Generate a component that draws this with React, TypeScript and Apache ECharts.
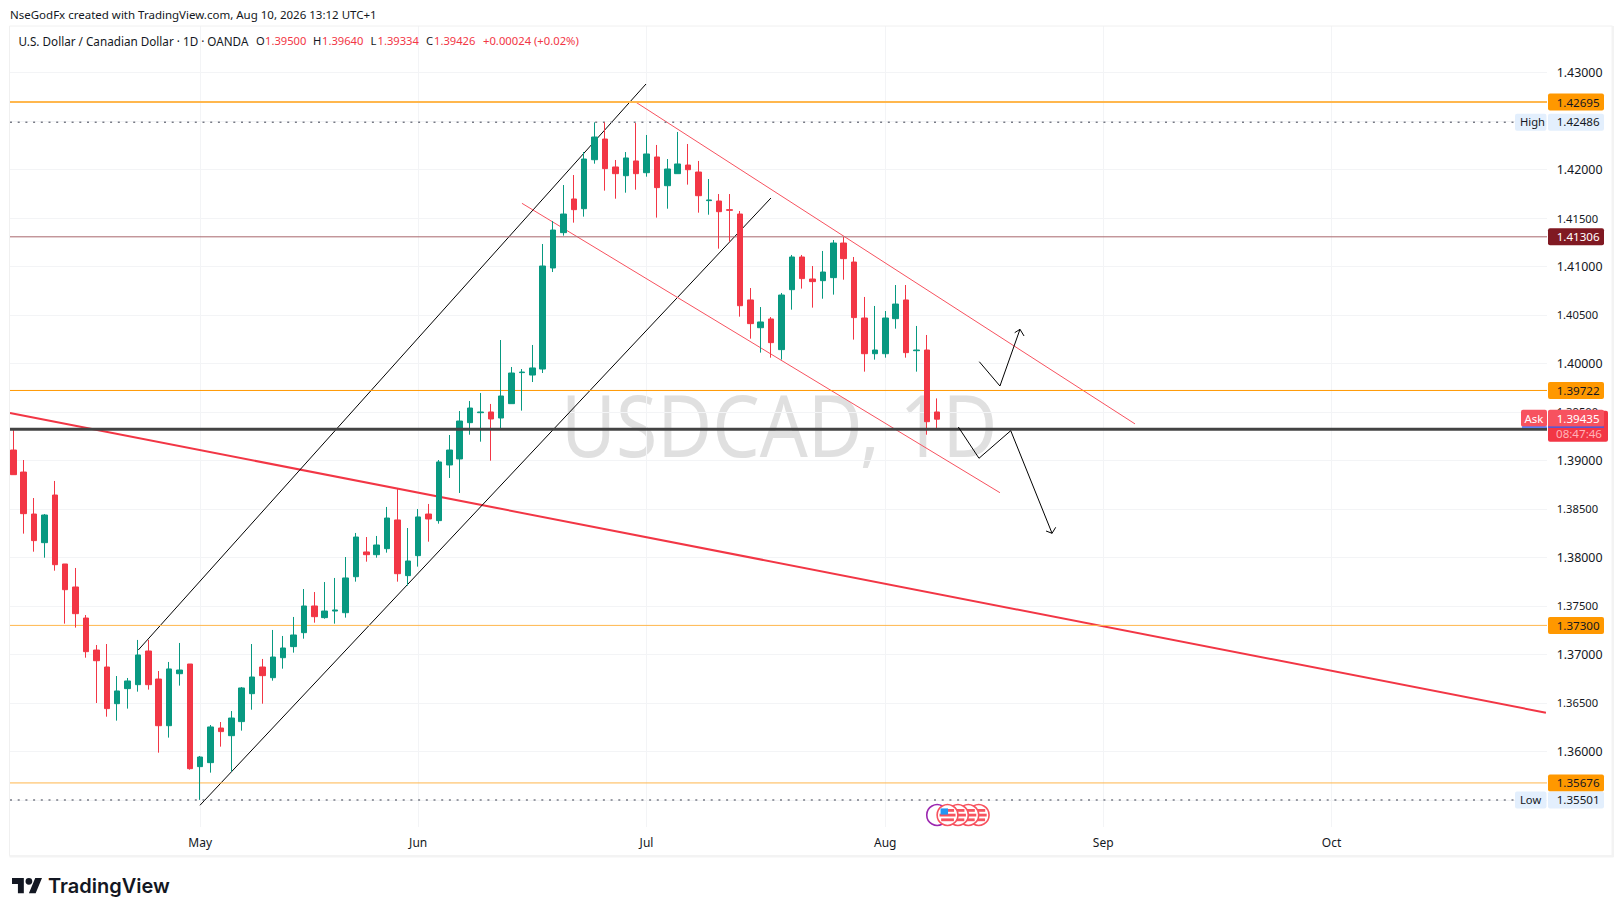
import React, { useEffect, useRef } from "react";
import * as echarts from "echarts";

const opens = [1.39108,1.38881,1.38448,1.38153,1.38644,1.37933,1.37696,1.37376,1.37046,1.36871,1.36493,1.36648,1.36689,1.37036,1.36747,1.36266,1.36802,1.36902,1.35844,1.35885,1.36242,1.36163,1.36308,1.36596,1.36871,1.36761,1.36967,1.37081,1.37225,1.375,1.3738,1.37448,1.37431,1.37802,1.38057,1.38029,1.38091,1.38387,1.37813,1.38019,1.38448,1.3838,1.38954,1.39016,1.3939,1.39493,1.395,1.39438,1.39586,1.39906,1.39881,1.39943,1.40985,1.41349,1.41696,1.41596,1.42101,1.42314,1.42026,1.41936,1.42088,1.41967,1.42129,1.41833,1.41957,1.42046,1.41974,1.41679,1.41675,1.41586,1.41541,1.40655,1.40369,1.40459,1.40143,1.40761,1.41098,1.40871,1.40854,1.40885,1.41242,1.41046,1.40469,1.40101,1.40101,1.40462,1.40655,1.40132,1.40139,1.395];
const closes = [1.38854,1.38452,1.38174,1.38438,1.37926,1.37668,1.37421,1.37029,1.36936,1.36442,1.36624,1.36727,1.36995,1.36689,1.36266,1.36851,1.3684,1.35823,1.35943,1.36253,1.36205,1.36345,1.36655,1.36768,1.36782,1.36974,1.37067,1.37201,1.375,1.3739,1.37448,1.37459,1.37789,1.38211,1.38029,1.38129,1.38407,1.37833,1.37964,1.38418,1.38397,1.38985,1.39108,1.39407,1.39541,1.395,1.39428,1.39665,1.39902,1.39912,1.39954,1.41005,1.41376,1.41541,1.41586,1.42108,1.42335,1.42009,1.41957,1.42119,1.41957,1.4216,1.41813,1.42005,1.42057,1.41998,1.4173,1.41686,1.41565,1.41579,1.40596,1.40411,1.40428,1.40215,1.40706,1.41098,1.40875,1.40844,1.40943,1.41242,1.41081,1.40473,1.40101,1.40139,1.40469,1.40613,1.40112,1.40139,1.394,1.39426];
const highs = [1.39314,1.39005,1.38613,1.38448,1.38789,1.37933,1.37892,1.37407,1.37098,1.37108,1.36778,1.36758,1.3715,1.3715,1.3683,1.36923,1.37119,1.36902,1.35954,1.36273,1.36304,1.36417,1.36665,1.37108,1.36954,1.37253,1.37191,1.37387,1.37675,1.37644,1.37747,1.37789,1.38005,1.38253,1.38211,1.38222,1.38521,1.38706,1.38304,1.385,1.38552,1.39005,1.39263,1.3951,1.39613,1.39696,1.39583,1.40242,1.39964,1.39943,1.40191,1.41232,1.41469,1.4184,1.41943,1.4218,1.42486,1.42486,1.42098,1.4218,1.42479,1.42356,1.42253,1.42108,1.42387,1.42263,1.42088,1.41902,1.41747,1.41747,1.41572,1.40778,1.40582,1.40479,1.40727,1.41119,1.41119,1.41005,1.4116,1.41273,1.41304,1.41098,1.40686,1.40593,1.40541,1.40809,1.40809,1.40387,1.40294,1.3964];
const lows = [1.38854,1.38246,1.3806,1.37998,1.37864,1.37318,1.37277,1.36967,1.365,1.36359,1.36318,1.36442,1.36617,1.36638,1.35988,1.36143,1.36679,1.35813,1.35501,1.35782,1.3605,1.35792,1.36215,1.36431,1.36493,1.3673,1.36854,1.37019,1.37163,1.37328,1.37369,1.37318,1.3738,1.37751,1.37957,1.37998,1.3805,1.37751,1.3771,1.37906,1.38163,1.38349,1.3882,1.38665,1.39266,1.39194,1.38998,1.39318,1.39586,1.39514,1.39809,1.39902,1.40943,1.41318,1.41452,1.41514,1.4206,1.41782,1.41699,1.41761,1.41792,1.41926,1.41504,1.41596,1.41957,1.41844,1.41555,1.41534,1.41184,1.41256,1.40483,1.40256,1.40112,1.4006,1.4004,1.40555,1.40772,1.40576,1.40668,1.4071,1.40864,1.40246,1.39916,1.4004,1.4006,1.40359,1.4006,1.39916,1.39266,1.39334];

const monthIndex = [18, 39, 61, 84, 105, 127];
const monthNames = ["May", "Jun", "Jul", "Aug", "Sep", "Oct"];
const priceTicks = [1.355,1.36,1.365,1.37,1.375,1.38,1.385,1.39,1.395,1.4,1.405,1.41,1.415,1.42,1.425,1.43];

const xMin = -0.3208;
const xMax = 147.752;
const yMin = 1.352216;
const yMax = 1.434794;

const blackUpper = [[12.04, 1.370464], [60.95, 1.428814]];
const blackLower = [[17.98, 1.354454], [72.99, 1.417062]];
const redUpper = [[59.99, 1.426928], [108.06, 1.393773]];
const redLower = [[49.0, 1.416515], [95.05, 1.38668]];
const longRed = [[xMin, 1.394897], [147.65, 1.364]];
const arrowDown = [[91.04, 1.393454], [93.03, 1.390227], [96.09, 1.393072], [100.07, 1.382495]];
const arrowDownHead = [[99.49, 1.382732], [100.07, 1.382495], [100.42, 1.383113]];
const arrowUp = [[93.06, 1.400186], [95.05, 1.39768], [96.98, 1.403526]];
const arrowUpHead = [[96.47, 1.403175], [96.98, 1.403526], [97.37, 1.402835]];

const levelOrange1 = 1.42695;
const levelOrange2 = 1.39722;
const levelOrange3 = 1.373;
const levelOrange4 = 1.35676;
const levelMaroon = 1.41306;
const levelDark = 1.39322;
const levelHigh = 1.42486;
const levelLow = 1.35501;
const levelAsk = 1.39435;
const eventIndex = [89, 93, 92, 91, 90];

const orangeTags = [levelOrange1, levelOrange2, levelOrange3, levelOrange4];
const extremeTags = [levelHigh, levelLow];
const extremeNames = ["High", "Low"];

const UI = "'Noto Sans', sans-serif";
const INK = "#131722";
const GREEN = "#089981";
const RED = "#f23645";
const ORANGE = "#ff9800";

echarts.graphic.registerShape(
  "tvlogo",
  echarts.graphic.extendPath(
    "M14 22H7V11H0V4h14v18zM28 22h-8l7.5-18h8L28 22zM20 12a4 4 0 1 0 0-8 4 4 0 0 0 0 8z",
    {}
  )
);

function lineSeries(data: number[][], color: string, width: number, z: number, extra: any = {}) {
  return {
    type: "line",
    data,
    z,
    silent: true,
    symbol: "none",
    showSymbol: false,
    lineStyle: { color, width, ...extra },
  };
}
const hLine = (p: number, end = xMax) => [[xMin, p], [end, p]];

function tag(x: number, cy: number, w: number, h: number, bg: string) {
  return { type: "rect", shape: { x, y: cy - h / 2, width: w, height: h, r: 2 }, style: { fill: bg } };
}
function label(x: number, y: number, text: string, fill: string, size = 12, align = "left", weight = "normal") {
  return {
    type: "text",
    style: { x, y, text, fill, fontSize: size, fontFamily: UI, fontWeight: weight, align, verticalAlign: "middle" },
  };
}

function gText(x: number, y: number, text: string, fill: string, size = 11.2) {
  return {
    type: "text",
    z: 10,
    x,
    y,
    style: { text, fill, fontSize: size, fontFamily: UI, textVerticalAlign: "middle", verticalAlign: "middle" },
  };
}

export default function App() {
  const ref = useRef<HTMLDivElement>(null);
  useEffect(() => {
    const chart = echarts.init(ref.current!, undefined, { renderer: "svg" });
    const candles = opens.map((o, i) => [i, o, closes[i], lows[i], highs[i]]);
    chart.setOption({
      animation: false,
      backgroundColor: "#ffffff",
      grid: { left: 10, right: 76, top: 26, bottom: 89, containLabel: false },
      xAxis: {
        type: "value",
        min: xMin,
        max: xMax,
        axisLine: { show: false },
        axisTick: { show: false, customValues: monthIndex },
        axisLabel: {
          show: true,
          customValues: monthIndex,
          margin: 9,
          color: INK,
          fontSize: 12,
          fontFamily: UI,
          showMinLabel: true,
          showMaxLabel: true,
          formatter: (v: number) => monthNames[monthIndex.indexOf(Math.round(v))] ?? "",
        },
        splitLine: { show: true, lineStyle: { color: "#f3f4f6", width: 1 } },
      },
      yAxis: {
        type: "value",
        position: "right",
        min: yMin,
        max: yMax,
        axisLine: { show: false },
        axisTick: { show: false, customValues: priceTicks },
        axisLabel: {
          show: true,
          customValues: priceTicks,
          margin: 9.7,
          align: "left",
          color: INK,
          formatter: (v: number) => {
            const s = v.toFixed(5);
            return Math.round(v * 1000) % 10 === 0 ? `{a|${s}}` : `{b|${s}}`;
          },
          rich: {
            a: { fontSize: 12.4, fontFamily: UI, color: INK },
            b: { fontSize: 11.2, fontFamily: UI, color: INK },
          },
        },
        splitLine: { show: true, lineStyle: { color: "#f3f4f6", width: 1 } },
      },
      series: [
        lineSeries(longRed, RED, 2, 1),
        lineSeries(blackUpper, "#000000", 1, 1),
        lineSeries(blackLower, "#000000", 1, 1),
        lineSeries(redUpper, "#f7525f", 1, 1),
        lineSeries(redLower, "#f7525f", 1, 1),
        lineSeries(hLine(levelOrange1), "#ffb74d", 2, 1),
        lineSeries(hLine(levelOrange2), ORANGE, 1, 1),
        lineSeries(hLine(levelOrange3), "#ffb74d", 1, 1),
        lineSeries(hLine(levelOrange4), "#ffb74d", 1, 1),
        lineSeries(hLine(levelMaroon), "#a8666c", 1, 1),
        lineSeries(hLine(levelHigh, 144.6), "#787b86", 1.5, 1, { type: [2, 5.7] }),
        lineSeries(hLine(levelLow, 144.6), "#787b86", 1.5, 1, { type: [2, 5.7] }),
        {
          type: "candlestick",
          z: 2,
          silent: true,
          barWidth: 6,
          encode: { x: 0, y: [1, 2, 3, 4] },
          data: candles,
          itemStyle: { color: GREEN, color0: RED, borderColor: GREEN, borderColor0: RED, borderWidth: 1 },
        },
        lineSeries(hLine(levelDark), "#434343", 3, 3),
        lineSeries(arrowDown, "#000000", 1, 3),
        lineSeries(arrowDownHead, "#000000", 1, 3),
        lineSeries(arrowUp, "#000000", 1, 3),
        lineSeries(arrowUpHead, "#000000", 1, 3),
        {
          type: "custom",
          z: 5,
          silent: true,
          clip: false,
          encode: { x: 0, y: 1 },
          data: eventIndex.map((i) => [i, yMin]),
          renderItem: (_p: any, api: any) => {
            const [cx, by] = api.coord([api.value(0), yMin]);
            const cy = by - 12;
            const purple = api.value(0) === 89;
            const front = api.value(0) === 90;
            const r = 10.4;
            const children: any[] = [
              { type: "circle", shape: { cx, cy, r }, style: { fill: "#fff", stroke: purple ? "#9c27b0" : "#f7525f", lineWidth: 1.6 } },
            ];
            if (!purple) {
              for (const [dy, h] of [[-6, 2.8], [-1.3, 2.8], [3.4, 2.8]]) {
                const d = Math.abs(dy + h / 2);
                const hw = Math.sqrt(Math.max(0, 8 * 8 - d * d));
                children.push({ type: "rect", shape: { x: cx - hw, y: cy + dy, width: 2 * hw, height: h }, style: { fill: "#f7525f" } });
              }
            }
            if (front) {
              children.push({ type: "rect", shape: { x: cx - 7, y: cy - 6.6, width: 7.5, height: 6.2 }, style: { fill: "#2196f3" } });
            }
            return { type: "group", children };
          },
        },
        {
          type: "custom",
          z: 6,
          silent: true,
          clip: false,
          encode: { x: 0, y: 1 },
          data: orangeTags.map((p) => [xMax, p]),
          renderItem: (_p: any, api: any) => {
            const [, cy] = api.coord([xMax, api.value(1)]);
            return {
              type: "group",
              children: [
                tag(1548, cy, 56, 17, ORANGE),
                label(1556.7, cy, api.value(1).toFixed(5), INK, 11.6),
              ],
            };
          },
        },
        {
          type: "custom",
          z: 6,
          silent: true,
          clip: false,
          encode: { x: 0, y: 1 },
          data: [[xMax, levelMaroon]],
          renderItem: (_p: any, api: any) => {
            const [, cy] = api.coord([xMax, api.value(1)]);
            return {
              type: "group",
              children: [
                tag(1548, cy, 56, 17, "#801922"),
                label(1556.7, cy, api.value(1).toFixed(5), "#ffffff", 11.6),
              ],
            };
          },
        },
        {
          type: "custom",
          z: 6,
          silent: true,
          clip: false,
          encode: { x: 0, y: 1 },
          data: extremeTags.map((p) => [xMax, p]),
          renderItem: (p: any, api: any) => {
            const [, cy] = api.coord([xMax, api.value(1)]);
            return {
              type: "group",
              children: [
                tag(1515, cy, 31.5, 17, "#e3effd"),
                tag(1548, cy, 56, 17, "#e3effd"),
                label(1520, cy - 0.5, extremeNames[p.dataIndex], INK, 11.2),
                label(1556.7, cy - 0.5, api.value(1).toFixed(5), INK, 11.6),
              ],
            };
          },
        },
        {
          type: "custom",
          z: 7,
          silent: true,
          clip: false,
          encode: { x: 0, y: 1 },
          data: [[xMax, levelAsk]],
          renderItem: (_p: any, api: any) => {
            const [, cy] = api.coord([xMax, api.value(1)]);
            return {
              type: "group",
              children: [
                tag(1548, cy + 8, 60, 31, RED),
                tag(1548, cy, 56, 17, "#f7525f"),
                tag(1521, cy, 26, 17, "#f7525f"),
                { type: "rect", shape: { x: 1522, y: cy + 8.2, width: 25, height: 1.2 }, style: { fill: "#2962ff" } },
                { type: "rect", shape: { x: 1548, y: cy + 8.2, width: 56, height: 1.2 }, style: { fill: "#2962ff" } },
                label(1534, cy, "Ask", "#ffffff", 11.4, "center"),
                label(1556.7, cy, api.value(1).toFixed(5), "#ffffff", 11.6),
                label(1556, cy + 15.5, "08:47:46", "#ffb3b9", 11.6),
              ],
            };
          },
        },
      ],
      graphic: {
        elements: [
          {
            type: "text",
            z: -1,
            x: 561,
            y: 424,
            scaleX: 0.885,
            silent: true,
            style: { text: "USDCAD, 1D", fill: "#e0e0e0", fontSize: 85, fontFamily: UI, textVerticalAlign: "middle", verticalAlign: "middle" },
          },
          { type: "rect", z: 9, silent: true, shape: { x: 9.5, y: 26, width: 1603, height: 830 }, style: { fill: "transparent", stroke: "#f0f0f0", lineWidth: 1 } },
          { type: "rect", z: 9, silent: true, shape: { x: 1611.5, y: 26, width: 2.5, height: 831 }, style: { fill: "#f3f3f3" } },
          { type: "rect", z: 9, silent: true, shape: { x: 9.5, y: 855, width: 1604, height: 2.5 }, style: { fill: "#f3f3f3" } },
          gText(10, 14.4, "NseGodFx created with TradingView.com, Aug 10, 2026 13:12 UTC+1", INK, 11.5),
          gText(18.5, 40.8, "U.S. Dollar / Canadian Dollar · 1D · OANDA", INK, 11.7),
          gText(256, 40.8, "O", INK),
          gText(265, 40.8, "1.39500", RED),
          gText(313, 40.8, "H", INK),
          gText(322, 40.8, "1.39640", RED),
          gText(370.5, 40.8, "L", INK),
          gText(377.5, 40.8, "1.39334", RED),
          gText(426, 40.8, "C", INK),
          gText(434, 40.8, "1.39426", RED),
          gText(483, 40.8, "+0.00024 (+0.02%)", RED, 11.25),
          { type: "tvlogo", z: 10, x: 12, y: 874.6, scaleX: 0.845, scaleY: 0.845, silent: true, style: { fill: INK } },
          {
            type: "text",
            z: 10,
            x: 48,
            y: 886,
            silent: true,
            style: { text: "TradingView", fill: INK, fontSize: 20, fontWeight: 600, fontFamily: "Inter, sans-serif", textVerticalAlign: "middle", verticalAlign: "middle" },
          },
        ],
      },
    });
    return () => chart.dispose();
  }, []);
  return <div ref={ref} style={{ position: "absolute", left: 0, top: 0, width: 1623, height: 916 }} />;
}
